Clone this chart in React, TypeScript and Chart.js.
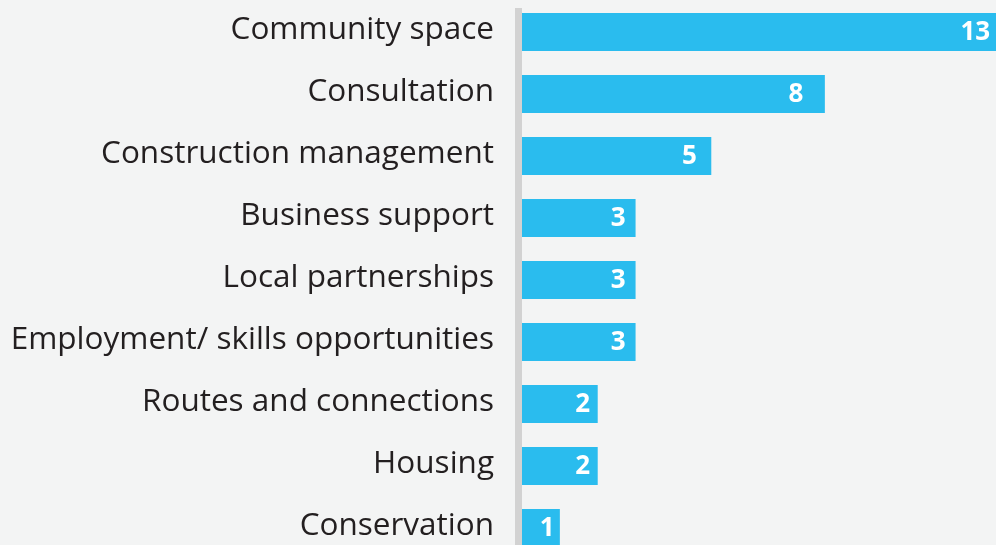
import React, { useEffect, useRef } from "react";
import { Chart, registerables } from "chart.js";

Chart.register(...registerables);

const categories = [
  "Community space",
  "Consultation",
  "Construction management",
  "Business support",
  "Local partnerships",
  "Employment/ skills opportunities",
  "Routes and connections",
  "Housing",
  "Conservation",
];
const counts = [13, 8, 5, 3, 3, 3, 2, 2, 1];
const xMax = 14;

const FONT = "'Open Sans', sans-serif";

const axisLinePlugin = {
  id: "axisLine",
  beforeDatasetsDraw(chart: any) {
    const { ctx, chartArea } = chart;
    ctx.save();
    ctx.fillStyle = "#d2d2d2";
    ctx.fillRect(chartArea.left - 7, chartArea.top + 7, 7, chartArea.bottom - chartArea.top);
    ctx.restore();
  },
};

const categoryLabelPlugin = {
  id: "categoryLabels",
  afterDraw(chart: any) {
    const { ctx, chartArea } = chart;
    const yScale = chart.scales.y;
    ctx.save();
    ctx.fillStyle = "#231f20";
    ctx.font = `31.5px ${FONT}`;
    ctx.textAlign = "right";
    ctx.textBaseline = "middle";
    categories.forEach((c, i) => {
      ctx.fillText(c, chartArea.left - 28, yScale.getPixelForValue(i) - 2);
    });
    ctx.restore();
  },
};

const valueLabelPlugin = {
  id: "valueLabels",
  afterDatasetsDraw(chart: any) {
    const { ctx } = chart;
    const meta = chart.getDatasetMeta(0);
    ctx.save();
    ctx.fillStyle = "#ffffff";
    ctx.font = `bold 26px ${FONT}`;
    ctx.textAlign = "right";
    ctx.textBaseline = "middle";
    meta.data.forEach((el: any, i: number) => {
      const v = counts[i];
      const pad = Math.min(24, 3 + 2.3 * v);
      ctx.fillText(String(v), el.x - pad, el.y + 1);
    });
    ctx.restore();
  },
};

export default function App() {
  const ref = useRef<HTMLCanvasElement | null>(null);
  useEffect(() => {
    if (!ref.current) return;
    const chart = new Chart(ref.current, {
      type: "bar",
      data: {
        labels: categories,
        datasets: [
          {
            data: counts,
            backgroundColor: "#2abcee",
            borderWidth: 0,
            barPercentage: 0.613,
            categoryPercentage: 1,
          },
        ],
      },
      options: {
        indexAxis: "y",
        animation: false,
        responsive: false,
        maintainAspectRatio: false,
        layout: { padding: { top: 1, bottom: 0, left: 522, right: 0 } },
        plugins: {
          legend: { display: false },
          tooltip: { enabled: false },
        },
        scales: {
          x: {
            min: 0,
            max: xMax,
            display: false,
          },
          y: {
            display: false,
          },
        },
      },
      plugins: [axisLinePlugin, valueLabelPlugin, categoryLabelPlugin],
    });
    return () => chart.destroy();
  }, []);

  return (
    <div
      style={{
        position: "fixed",
        left: 0,
        top: 0,
        width: 996,
        height: 545,
        overflow: "hidden",
        background: "#f3f4f4",
      }}
    >
      <canvas ref={ref} width={1052} height={559} style={{ display: "block" }} />
    </div>
  );
}
